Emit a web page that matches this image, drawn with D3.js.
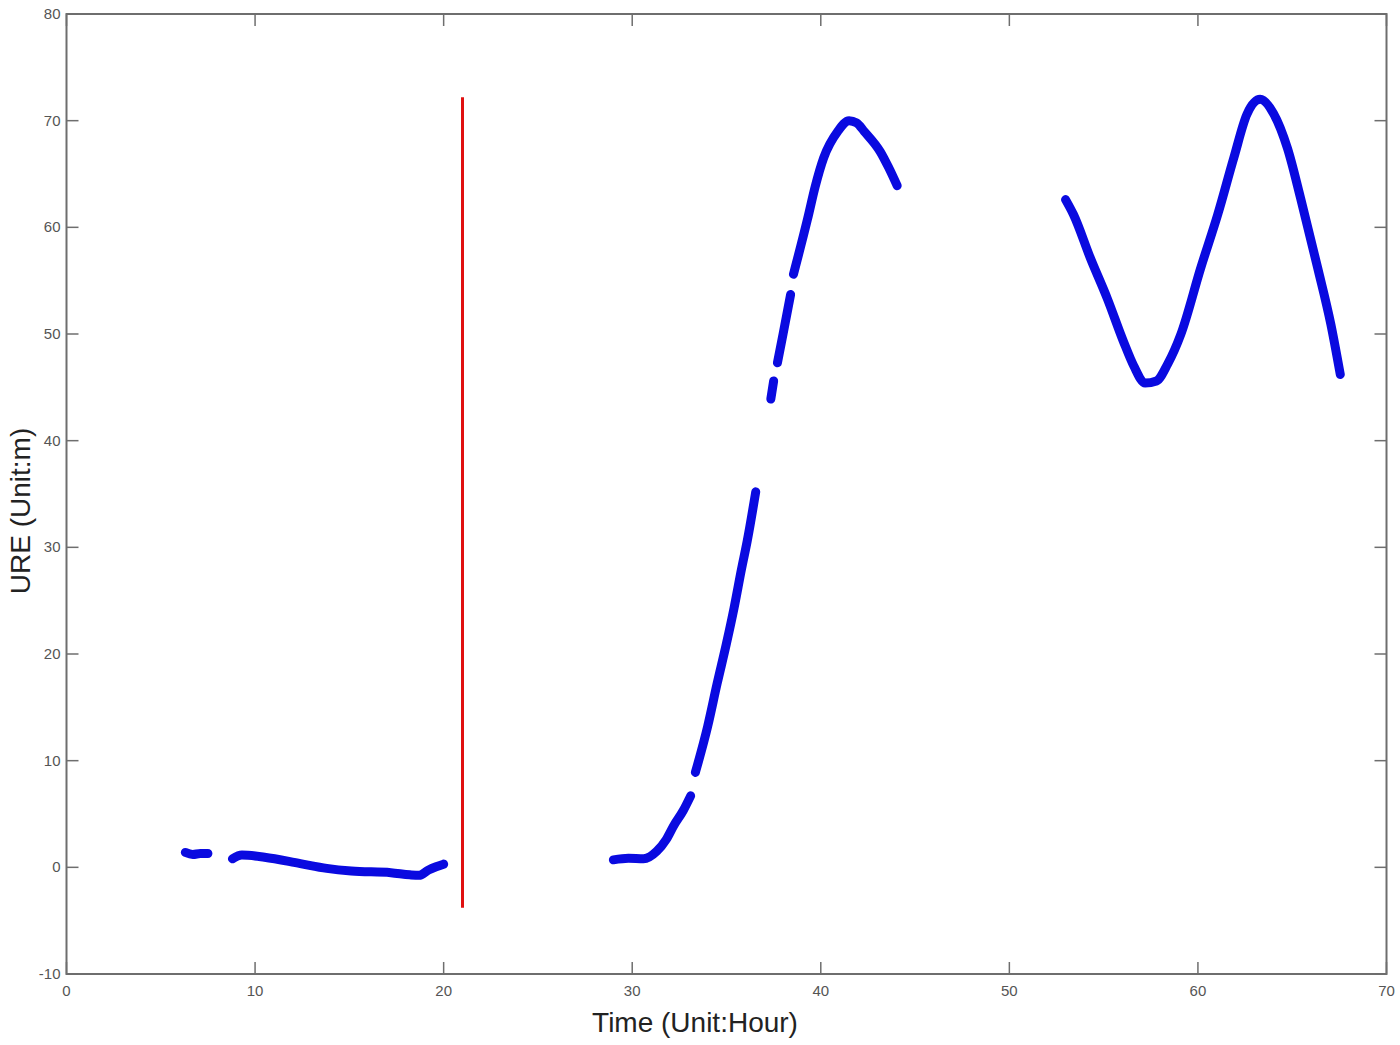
<!DOCTYPE html>
<html>
<head>
<meta charset="utf-8">
<script src="https://cdn.jsdelivr.net/npm/d3@7"></script>
<style>
  html, body { margin: 0; padding: 0; background: #fff; }
  svg { display: block; }
</style>
</head>
<body>
<svg id="chart" width="1400" height="1045"></svg>
<script>
// ---- data ----
const xTicks = [0, 10, 20, 30, 40, 50, 60, 70];
const yTicks = [-10, 0, 10, 20, 30, 40, 50, 60, 70, 80];

// URE samples per continuous piece: [hour, metres]
const pieceA = [[6.3, 1.4], [6.7, 1.2], [7.1, 1.3], [7.5, 1.3]];
const pieceB = [[8.8, 0.8], [9.3, 1.15], [10.5, 0.95], [12.4, 0.35], [13.8, -0.1], [15.1, -0.35], [17.2, -0.5], [18.2, -0.7], [18.7, -0.75], [19.2, -0.25], [19.6, 0.05], [20.0, 0.3]];
const pieceC = [[29.0, 0.7], [29.8, 0.85], [30.6, 0.8], [31.3, 1.5], [31.8, 2.6], [32.2, 3.9], [32.7, 5.3], [33.1, 6.7]];
const pieceD = [[33.35, 8.9], [34.0, 13.2], [34.5, 17.2], [35.0, 21.0], [35.4, 24.3], [35.8, 28.0], [36.1, 30.6], [36.55, 35.2]];
const pieceE = [[37.35, 43.9], [37.5, 45.6]];
const pieceF = [[37.7, 47.3], [38.0, 50.0], [38.4, 53.7]];
const pieceG = [[38.55, 55.6], [39.3, 60.8], [39.7, 63.8], [40.15, 66.5], [40.9, 69.0], [41.5, 70.0], [41.9, 69.8], [42.3, 69.0], [43.15, 67.1], [43.6, 65.6], [44.05, 63.9]];
const pieceH = [[52.98, 62.6], [53.4, 61.2], [54.3, 57.1], [55.2, 53.3], [56.05, 49.3], [56.6, 47.0], [57.2, 45.4], [57.8, 45.6], [58.4, 47.2], [59.1, 50.0], [60.15, 56.2], [61.05, 61.2], [61.9, 66.5], [62.6, 70.6], [63.3, 72.0], [64.0, 70.7], [64.75, 67.4], [65.45, 62.7], [66.35, 56.2], [67.05, 50.9], [67.55, 46.2]];
const pieces = [pieceA, pieceB, pieceC, pieceD, pieceE, pieceF, pieceG, pieceH];

// red vertical marker: [hour, yFrom, yTo]
const marker = [21.0, -3.8, 72.2];

const xLabel = "Time (Unit:Hour)";
const yLabel = "URE (Unit:m)";

// ---- layout ----
const svg = d3.select("#chart");
const mLeft = 66.5, mRight = 1386.5, mTop = 14, mBottom = 974;

const x = d3.scaleLinear().domain([0, 70]).range([mLeft, mRight]);
const y = d3.scaleLinear().domain([-10, 80]).range([mBottom, mTop]);

const axisColor = "#6e6e6e";
const tickLen = 12;

// frame
svg.append("rect")
  .attr("x", mLeft).attr("y", mTop)
  .attr("width", mRight - mLeft).attr("height", mBottom - mTop)
  .attr("fill", "none").attr("stroke", axisColor).attr("stroke-width", 2);

// inward ticks on all four sides
const tickG = svg.append("g").attr("stroke", axisColor).attr("stroke-width", 1.5);
xTicks.forEach(t => {
  tickG.append("line").attr("x1", x(t)).attr("x2", x(t)).attr("y1", mBottom).attr("y2", mBottom - tickLen);
  tickG.append("line").attr("x1", x(t)).attr("x2", x(t)).attr("y1", mTop).attr("y2", mTop + tickLen);
});
yTicks.forEach(t => {
  tickG.append("line").attr("x1", mLeft).attr("x2", mLeft + tickLen).attr("y1", y(t)).attr("y2", y(t));
  tickG.append("line").attr("x1", mRight).attr("x2", mRight - tickLen).attr("y1", y(t)).attr("y2", y(t));
});

// tick labels
const lblFont = "'Liberation Sans', Arial, sans-serif";
svg.append("g").selectAll("text").data(xTicks).join("text")
  .attr("x", d => x(d)).attr("y", mBottom + 22)
  .attr("text-anchor", "middle")
  .attr("font-family", lblFont).attr("font-size", 15).attr("fill", "#555")
  .text(d => d);
svg.append("g").selectAll("text").data(yTicks).join("text")
  .attr("x", mLeft - 6).attr("y", d => y(d) + 5)
  .attr("text-anchor", "end")
  .attr("font-family", lblFont).attr("font-size", 15).attr("fill", "#555")
  .text(d => d);

// axis titles
svg.append("text")
  .attr("x", 695).attr("y", 1032)
  .attr("text-anchor", "middle")
  .attr("font-family", lblFont).attr("font-size", 28).attr("fill", "#222")
  .text(xLabel);
svg.append("text")
  .attr("transform", `translate(30, 511) rotate(-90)`)
  .attr("text-anchor", "middle")
  .attr("font-family", lblFont).attr("font-size", 28).attr("fill", "#222")
  .text(yLabel);

// red marker line
svg.append("line")
  .attr("x1", x(marker[0])).attr("x2", x(marker[0]))
  .attr("y1", y(marker[1])).attr("y2", y(marker[2]))
  .attr("stroke", "#e01010").attr("stroke-width", 3);

// blue URE data
const line = d3.line().x(d => x(d[0])).y(d => y(d[1])).curve(d3.curveMonotoneX);
svg.append("g").selectAll("path").data(pieces).join("path")
  .attr("d", line)
  .attr("fill", "none")
  .attr("stroke", "#0a0ae0")
  .attr("stroke-width", 9)
  .attr("stroke-linecap", "round")
  .attr("stroke-linejoin", "round");
</script>
</body>
</html>
